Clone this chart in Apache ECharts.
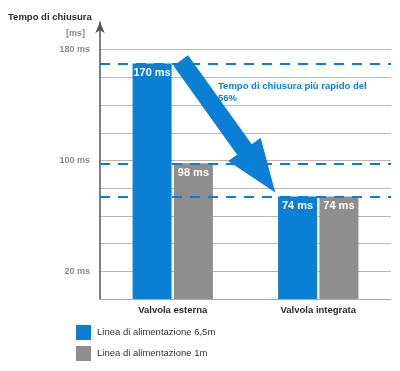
<!DOCTYPE html>
<html><head><meta charset="utf-8">
<script src="https://cdn.jsdelivr.net/npm/echarts@6/dist/echarts.min.js"></script>
<style>html,body{margin:0;padding:0;background:#fff}#c{width:400px;height:371px}</style>
</head><body><div id="c"></div>
<script>
const categories = ['Valvola esterna', 'Valvola integrata'];
const seriesNames = ['Linea di alimentazione 6,5m', 'Linea di alimentazione 1m'];
const valuesLong = [170, 74];
const valuesShort = [98, 74];
const refLines = [170, 98, 74];
const labeledTicks = [20, 100, 180];
const yTitle = 'Tempo di chiusura';
const yUnit = '[ms]';
const note = 'Tempo di chiusura più rapido del\n56%';

const BLUE = '#0a7fd4', GRAY = '#8e8e8e';
const FONT = '"Liberation Sans", Arial, sans-serif';
const chart = echarts.init(document.getElementById('c'), null, {renderer: 'canvas'});
const labelStyle = {show: true, position: 'insideTop', distance: 4, color: '#fff', fontWeight: 'bold', fontSize: 11, fontFamily: FONT, formatter: p => p.value + ' ms'};
chart.setOption({
  animation: false,
  textStyle: {fontFamily: FONT},
  title: [
    {text: yTitle, left: 3, top: 7, textStyle: {fontSize: 9.5, fontWeight: 'bold', color: '#2b2b2b', fontFamily: FONT}},
    {text: yUnit, right: 310, top: 24, textStyle: {fontSize: 9, fontWeight: 'bold', color: '#8a8a8a', fontFamily: FONT}},
    {text: note, left: 213, top: 75, textStyle: {fontSize: 9.5, fontWeight: 'bold', color: BLUE, lineHeight: 12, fontFamily: FONT}}
  ],
  grid: {left: 100, right: 9, top: 22, bottom: 72},
  legend: {
    orient: 'vertical', left: 71, top: 320, itemWidth: 15, itemHeight: 15, itemGap: 6,
    icon: 'rect', data: seriesNames,
    textStyle: {fontSize: 9.5, color: '#333', fontFamily: FONT, padding: [0, 0, 0, 1]}
  },
  xAxis: {
    type: 'category', data: categories,
    axisLine: {lineStyle: {color: '#a8a8a8', width: 1}},
    axisTick: {show: false},
    axisLabel: {color: '#2b2b2b', fontWeight: 'bold', fontSize: 9.5, margin: 6, fontFamily: FONT}
  },
  yAxis: {
    type: 'value', min: 0, max: 200, interval: 20,
    axisLine: {show: true, symbol: ['none', 'arrow'], symbolSize: [7, 11], lineStyle: {color: '#555', width: 1.5}},
    axisTick: {show: false},
    axisLabel: {color: '#8a8a8a', fontSize: 9, fontWeight: 'bold', margin: 10, fontFamily: FONT,
      formatter: v => labeledTicks.indexOf(v) >= 0 ? v + ' ms' : ''},
    splitLine: {show: true, showMinLine: false, showMaxLine: false, lineStyle: {color: '#b8b8b8', width: 1}}
  },
  series: [
    {name: seriesNames[0], type: 'bar', data: valuesLong, barWidth: 39, barGap: '6%',
     itemStyle: {color: BLUE}, label: labelStyle,
     markLine: {silent: true, symbol: 'none', z: 5, label: {show: false},
       lineStyle: {color: BLUE, type: [10, 8], width: 2},
       data: refLines.map(v => ({yAxis: v}))}},
    {name: seriesNames[1], type: 'bar', data: valuesShort, barWidth: 39,
     itemStyle: {color: GRAY}, label: labelStyle}
  ]
});

// annotation arrow anchored to data positions
const p170 = chart.convertToPixel({gridIndex: 0}, [categories[0], valuesLong[0]]);
const p74 = chart.convertToPixel({gridIndex: 0}, [categories[1], valuesLong[1]]);
const start = [p170[0] + 8, p170[1] - 3];
const tip = [p74[0] - 43, p74[1] - 4];
const dx = tip[0] - start[0], dy = tip[1] - start[1];
const len = Math.hypot(dx, dy);
const d = [dx / len, dy / len], n = [d[1], -d[0]];
const w = 9, H = 20, L = 53;
const base = [tip[0] - d[0] * L, tip[1] - d[1] * L];
const pt = (p, k) => [p[0] + n[0] * k, p[1] + n[1] * k];
chart.setOption({
  graphic: [{type: 'polygon', z: 100,
    shape: {points: [pt(start, w), pt(base, w), pt(base, H), tip, pt(base, -H), pt(base, -w), pt(start, -w)]},
    style: {fill: BLUE}}]
});
</script></body></html>
